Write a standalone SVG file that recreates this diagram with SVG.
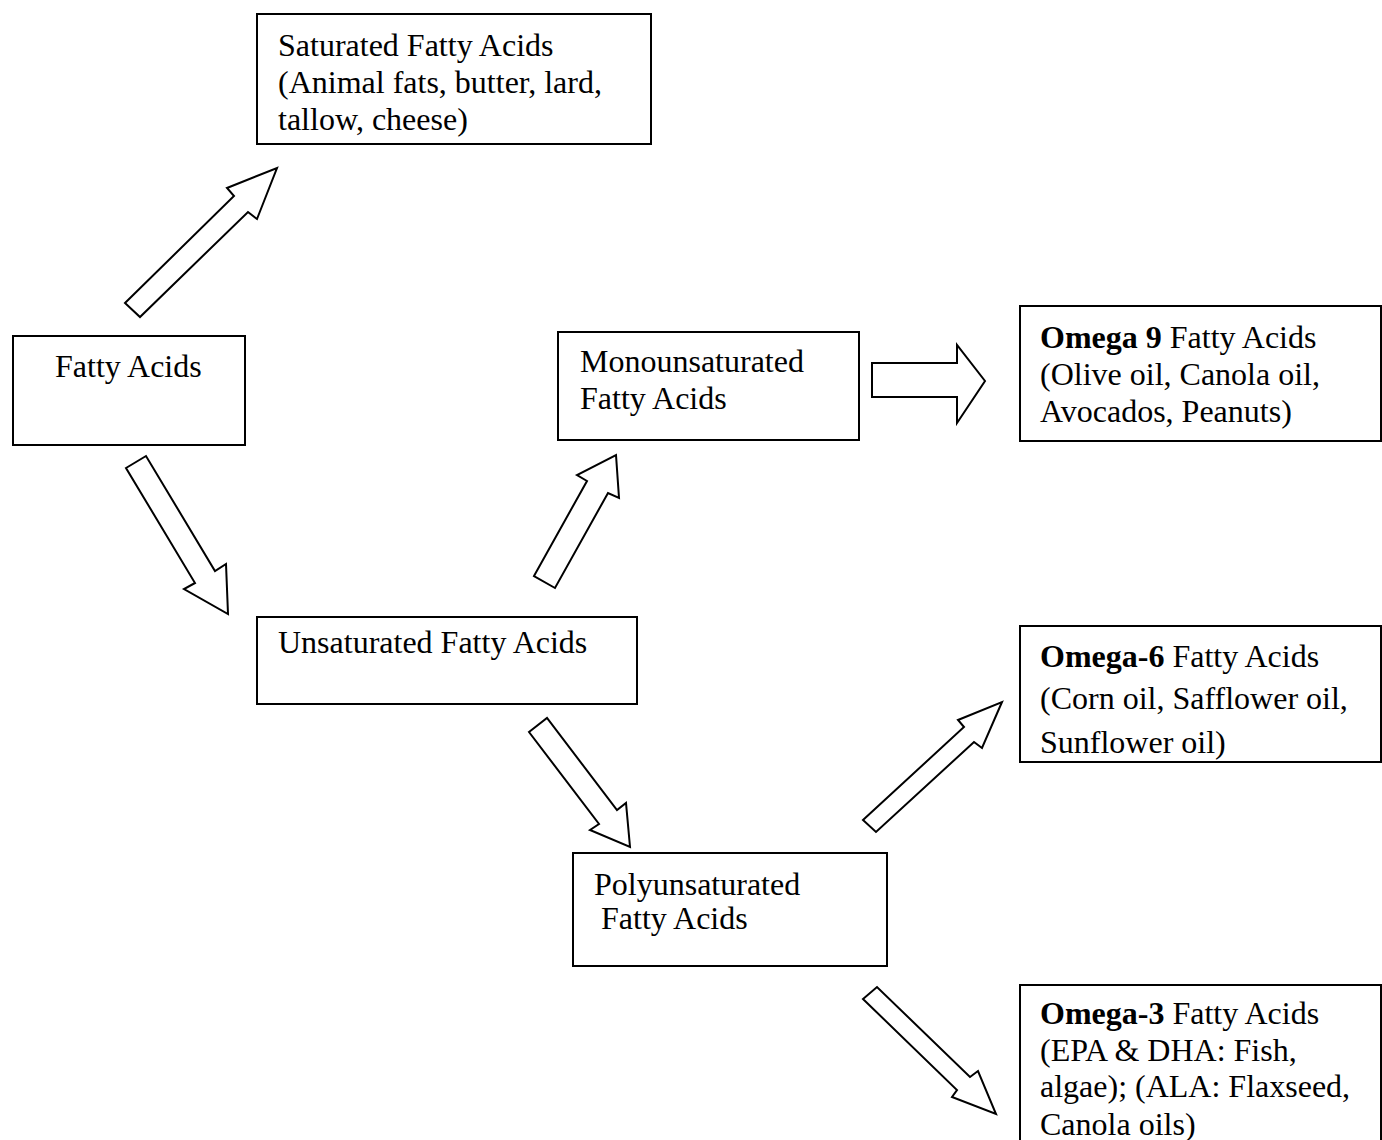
<svg xmlns="http://www.w3.org/2000/svg" width="1382" height="1140" viewBox="0 0 1382 1140">
<style>
.box{fill:#fff;stroke:#000;stroke-width:2}
.arr{fill:#fff;stroke:#000;stroke-width:2;stroke-linejoin:miter}
text{font-family:"Liberation Serif","Times New Roman",serif;font-size:32px;fill:#000}
.b{font-weight:bold}
</style>
<defs>
<clipPath id="c6"><rect x="1020" y="626" width="362" height="135"/></clipPath>
</defs>
<rect width="1382" height="1140" fill="#fff"/>
<g id="connectors">
<polygon class="arr" points="125,303 234,196 227,188 277,168 257,219 248,212 140,317"/>
<polygon class="arr" points="126,468 146,456 215,571 226,564 228,614 184,589 195,583"/>
<polygon class="arr" points="534,576 587,481 577,475 616,455 619,498 608,493 555,588"/>
<polygon class="arr" points="872,363 957,363 957,345 985,381 957,423 957,397 872,397"/>
<polygon class="arr" points="529,732 547,718 617,810 626,803 630,847 590,830 599,824"/>
<polygon class="arr" points="863,820 964,727 958,720 1002,702 982,748 974,742 876,832"/>
<polygon class="arr" points="863,999 957,1090 952,1097 996,1114 978,1071 970,1077 877,987"/>
</g>
<g id="saturated">
<rect class="box" x="257" y="14" width="394" height="130"/>
<text x="278" y="56">Saturated Fatty Acids</text>
<text x="278" y="93">(Animal fats, butter, lard,</text>
<text x="278" y="130">tallow, cheese)</text>
</g>
<g id="fatty">
<rect class="box" x="13" y="336" width="232" height="109"/>
<text x="55" y="377">Fatty Acids</text>
</g>
<g id="mono">
<rect class="box" x="558" y="332" width="301" height="108"/>
<text x="580" y="372">Monounsaturated</text>
<text x="580" y="409">Fatty Acids</text>
</g>
<g id="omega9">
<rect class="box" x="1020" y="306" width="361" height="135"/>
<text x="1040" y="348"><tspan class="b">Omega 9</tspan> Fatty Acids</text>
<text x="1040" y="385">(Olive oil, Canola oil,</text>
<text x="1040" y="422">Avocados, Peanuts)</text>
</g>
<g id="unsat">
<rect class="box" x="257" y="617" width="380" height="87"/>
<text x="278" y="653">Unsaturated Fatty Acids</text>
</g>
<g id="omega6">
<rect class="box" x="1020" y="626" width="361" height="136"/>
<g clip-path="url(#c6)">
<text x="1040" y="667"><tspan class="b">Omega-6</tspan> Fatty Acids</text>
<text x="1040" y="709">(Corn oil, Safflower oil,</text>
<text x="1040" y="753">Sunflower oil)</text>
</g>
</g>
<g id="poly">
<rect class="box" x="573" y="853" width="314" height="113"/>
<text x="594" y="895">Polyunsaturated</text>
<text x="601" y="929">Fatty Acids</text>
</g>
<g id="omega3">
<rect class="box" x="1020" y="985" width="361" height="170"/>
<text x="1040" y="1024"><tspan class="b">Omega-3</tspan> Fatty Acids</text>
<text x="1040" y="1061">(EPA &amp; DHA: Fish,</text>
<text x="1040" y="1097">algae); (ALA: Flaxseed,</text>
<text x="1040" y="1135">Canola oils)</text>
</g>
</svg>
